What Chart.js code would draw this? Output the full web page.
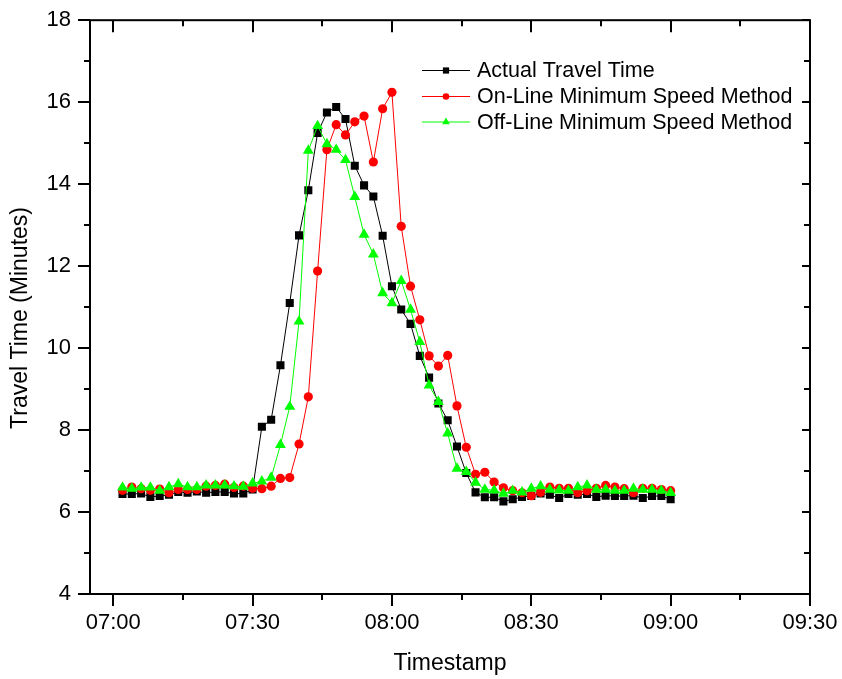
<!DOCTYPE html>
<html>
<head>
<meta charset="utf-8">
<script src="https://cdn.jsdelivr.net/npm/chart.js@4.4.1/dist/chart.umd.min.js"></script>
<style>
  html, body { margin: 0; padding: 0; background: #fff; }
</style>
</head>
<body>
<canvas id="myChart" width="842" height="679"></canvas>
<script>
// timestamps of the samples (every 2 minutes)
const times = [
    '07:02', '07:04', '07:06', '07:08', '07:10', '07:12', '07:14', '07:16', '07:18', '07:20',
    '07:22', '07:24', '07:26', '07:28', '07:30', '07:32', '07:34', '07:36', '07:38', '07:40',
    '07:42', '07:44', '07:46', '07:48', '07:50', '07:52', '07:54', '07:56', '07:58', '08:00',
    '08:02', '08:04', '08:06', '08:08', '08:10', '08:12', '08:14', '08:16', '08:18', '08:20',
    '08:22', '08:24', '08:26', '08:28', '08:30', '08:32', '08:34', '08:36', '08:38', '08:40',
    '08:42', '08:44', '08:46', '08:48', '08:50', '08:52', '08:54', '08:56', '08:58', '09:00'
];

const actual = [
    6.44, 6.44, 6.45, 6.37, 6.39, 6.42, 6.49, 6.47, 6.50, 6.47,
    6.49, 6.49, 6.45, 6.45, 6.55, 8.08, 8.25, 9.58, 11.10, 12.75,
    13.85, 15.25, 15.75, 15.88, 15.59, 14.45, 13.97, 13.70, 12.74, 11.51,
    10.94, 10.59, 9.81, 9.28, 8.65, 8.24, 7.60, 6.95, 6.48, 6.36,
    6.36, 6.26, 6.31, 6.37, 6.39, 6.45, 6.42, 6.34, 6.44, 6.42,
    6.44, 6.37, 6.40, 6.39, 6.39, 6.40, 6.34, 6.39, 6.39, 6.31
];

const onLine = [
    6.53, 6.61, 6.57, 6.53, 6.56, 6.47, 6.55, 6.55, 6.55, 6.63,
    6.65, 6.68, 6.60, 6.63, 6.58, 6.57, 6.63, 6.82, 6.84, 7.66,
    8.81, 11.88, 14.84, 15.45, 15.20, 15.52, 15.66, 14.54, 15.84, 16.24,
    12.97, 11.51, 10.69, 9.81, 9.56, 9.82, 8.59, 7.58, 6.92, 6.97,
    6.73, 6.59, 6.52, 6.47, 6.40, 6.48, 6.61, 6.58, 6.58, 6.47,
    6.52, 6.58, 6.65, 6.61, 6.57, 6.47, 6.58, 6.58, 6.55, 6.52
];

const offLine = [
    6.60, 6.57, 6.60, 6.60, 6.52, 6.61, 6.68, 6.61, 6.61, 6.65,
    6.65, 6.65, 6.63, 6.62, 6.70, 6.75, 6.84, 7.64, 8.57, 10.65,
    14.82, 15.42, 14.98, 14.84, 14.59, 13.69, 12.77, 12.29, 11.34, 11.10,
    11.64, 10.94, 10.15, 9.09, 8.69, 7.92, 7.06, 6.98, 6.72, 6.55,
    6.53, 6.45, 6.52, 6.48, 6.57, 6.63, 6.55, 6.53, 6.52, 6.61,
    6.65, 6.55, 6.55, 6.52, 6.52, 6.57, 6.55, 6.55, 6.52, 6.47
];

const xTickLabels = ['07:00', '07:30', '08:00', '08:30', '09:00', '09:30'];
const xMinorLabels = ['07:15', '07:45', '08:15', '08:45', '09:15'];
const yTicks = [4, 6, 8, 10, 12, 14, 16, 18];
const yMinor = [5, 7, 9, 11, 13, 15, 17];
const yTitle = 'Travel Time (Minutes)';

const FONT = '"Liberation Sans", Arial, sans-serif';

function toMin(s) {
    var p = s.split(':');
    return parseInt(p[0], 10) * 60 + parseInt(p[1], 10);
}

function fmt(m) {
    var h = Math.floor(m / 60), mm = m % 60;
    return (h < 10 ? '0' : '') + h + ':' + (mm < 10 ? '0' : '') + mm;
}

function points(values) {
    return values.map((v, i) => ({ x: toMin(times[i]), y: v }));
}

// box round the plot, mirrored ticks, minor ticks and the y title
const framePlugin = {
    id: 'frame',
    afterDraw(chart) {
        const ctx = chart.ctx;
        const a = chart.chartArea;
        const xs = chart.scales.x, ys = chart.scales.y;
        ctx.save();
        ctx.strokeStyle = '#000';
        ctx.lineWidth = 2;
        ctx.strokeRect(a.left, a.top, a.right - a.left, a.bottom - a.top);

        ctx.beginPath();
        xTickLabels.forEach(t => {
            var px = Math.round(xs.getPixelForValue(toMin(t)));
            ctx.moveTo(px, a.top); ctx.lineTo(px, a.top + 12);
        });
        xMinorLabels.forEach(t => {
            var px = Math.round(xs.getPixelForValue(toMin(t)));
            ctx.moveTo(px, a.top); ctx.lineTo(px, a.top + 6);
            ctx.moveTo(px, a.bottom); ctx.lineTo(px, a.bottom + 6);
        });
        yTicks.forEach(v => {
            var py = Math.round(ys.getPixelForValue(v));
            ctx.moveTo(a.right, py); ctx.lineTo(a.right - 8, py);
        });
        yMinor.forEach(v => {
            var py = Math.round(ys.getPixelForValue(v));
            ctx.moveTo(a.left, py); ctx.lineTo(a.left - 6, py);
            ctx.moveTo(a.right, py); ctx.lineTo(a.right - 6, py);
        });
        ctx.stroke();

        // y axis title, sits a little below the middle of the axis
        ctx.translate(21, 318);
        ctx.rotate(-Math.PI / 2);
        ctx.font = '23px ' + FONT;
        ctx.fillStyle = '#000';
        ctx.textAlign = 'center';
        ctx.textBaseline = 'middle';
        ctx.fillText(yTitle, 0, 0);
        ctx.restore();
    }
};

// legend inside the plot, top right
const legendPlugin = {
    id: 'innerLegend',
    afterDraw(chart) {
        const ctx = chart.ctx;
        const rows = [70.5, 96.5, 122];
        ctx.save();
        ctx.font = '21.5px ' + FONT;
        ctx.textBaseline = 'middle';
        ctx.textAlign = 'left';
        chart.data.datasets.forEach((ds, i) => {
            var y = rows[i];
            ctx.strokeStyle = ds.borderColor;
            ctx.lineWidth = 1;
            ctx.beginPath();
            ctx.moveTo(422, y); ctx.lineTo(470, y);
            ctx.stroke();
            ctx.fillStyle = ds.pointBackgroundColor;
            Chart.helpers.drawPoint(ctx, {
                pointStyle: ds.pointStyle,
                radius: ds.legendRadius,
                borderWidth: 0,
                rotation: 0
            }, 446, y);
            ctx.fillStyle = '#000';
            ctx.fillText(ds.label, 477, y + 1);
        });
        ctx.restore();
    }
};

const ctx = document.getElementById('myChart');

new Chart(ctx, {
    type: 'line',
    data: {
        datasets: [{
            label: 'Actual Travel Time',
            data: points(actual),
            borderColor: '#000000',
            backgroundColor: '#000000',
            pointBackgroundColor: '#000000',
            pointStyle: 'rect',
            pointRadius: 5.7,
            legendRadius: 4.4,
            borderWidth: 1,
            pointBorderWidth: 0,
            order: 3
        }, {
            label: 'On-Line Minimum Speed Method',
            data: points(onLine),
            borderColor: '#ff0000',
            backgroundColor: '#ff0000',
            pointBackgroundColor: '#ff0000',
            pointStyle: 'circle',
            pointRadius: 4.6,
            legendRadius: 3.3,
            borderWidth: 1,
            pointBorderWidth: 0,
            order: 2
        }, {
            label: 'Off-Line Minimum Speed Method',
            data: points(offLine),
            borderColor: '#00ff00',
            backgroundColor: '#00ff00',
            pointBackgroundColor: '#00ff00',
            pointStyle: 'triangle',
            pointRadius: 6.3,
            legendRadius: 4.4,
            borderWidth: 1,
            pointBorderWidth: 0,
            order: 1
        }]
    },
    options: {
        responsive: false,
        animation: false,
        layout: {
            padding: { top: 15, right: 32, bottom: 0, left: 0 }
        },
        plugins: {
            legend: { display: false },
            tooltip: { enabled: false }
        },
        elements: {
            line: { tension: 0 }
        },
        scales: {
            x: {
                type: 'linear',
                min: toMin('06:55'),
                max: toMin('09:30'),
                afterFit: function (scale) { scale.height = 85; },
                afterBuildTicks: function (scale) {
                    scale.ticks = xTickLabels.map(t => ({ value: toMin(t) }));
                },
                border: { display: false },
                grid: {
                    display: true,
                    drawOnChartArea: false,
                    drawTicks: true,
                    tickLength: 12,
                    lineWidth: 2,
                    color: '#000'
                },
                ticks: {
                    color: '#000',
                    padding: 4,
                    maxRotation: 0,
                    autoSkip: false,
                    font: { family: FONT, size: 22 },
                    callback: function (v) { return fmt(v); }
                },
                title: {
                    display: true,
                    text: 'Timestamp',
                    color: '#000',
                    font: { family: FONT, size: 23 },
                    padding: { top: 2, bottom: 2 }
                }
            },
            y: {
                min: 4,
                max: 18,
                afterFit: function (scale) { scale.width = 90; },
                afterBuildTicks: function (scale) {
                    scale.ticks = yTicks.map(v => ({ value: v }));
                },
                border: { display: false },
                grid: {
                    display: true,
                    drawOnChartArea: false,
                    drawTicks: true,
                    tickLength: 12,
                    lineWidth: 2,
                    color: '#000'
                },
                ticks: {
                    color: '#000',
                    padding: 7,
                    font: { family: FONT, size: 22 }
                }
            }
        }
    },
    plugins: [framePlugin, legendPlugin]
});
</script>
</body>
</html>
